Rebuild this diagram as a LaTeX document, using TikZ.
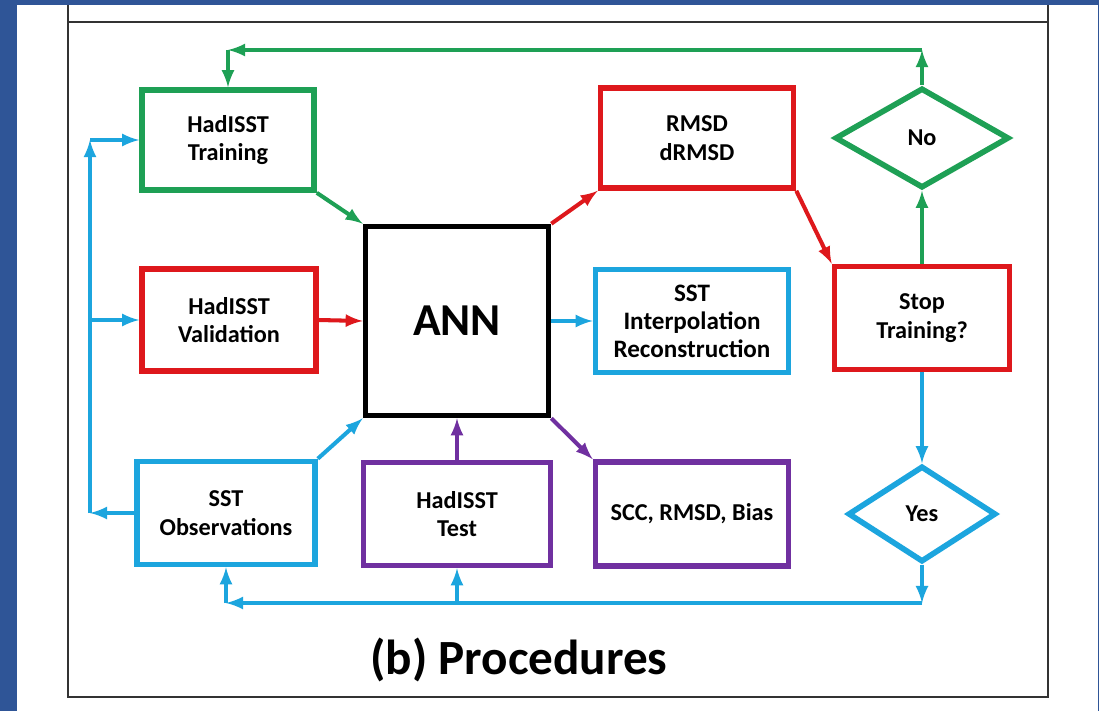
\documentclass[tikz,border=0pt]{standalone}
\usepackage{fontspec}
\setmainfont{Carlito}
\usetikzlibrary{arrows}
\usetikzlibrary{shapes.geometric}
\definecolor{mygreen}{RGB}{30,160,85}
\definecolor{myred}{RGB}{222,24,28}
\definecolor{myblue}{RGB}{28,165,222}
\definecolor{mypurple}{RGB}{112,48,160}
\definecolor{mybg}{RGB}{47,85,151}
\newcommand\px{0.02cm}

\begin{document}
\begin{tikzpicture}[x=0.02cm,y=-0.02cm,
box/.style={draw,rectangle,line width=3.2pt,inner sep=0pt,align=center,
  font=\bfseries\fontsize{13.8}{16.2}\selectfont},
dia/.style={box,diamond},
arr/.style={line width=2.3pt,-latex}]

\useasboundingbox (0,0) rectangle (1099,711);
\fill[mybg] (0,0) rectangle (1099,711);
\fill[white] (17,5) rectangle (1098,711);
\draw[line width=0.7pt,black!80] (68,5) -- (68,697) -- (1048,697) -- (1048,5);
\draw[line width=0.7pt,black!80] (68,22) -- (1048,22);

\node[box,mygreen,minimum width=172*\px,minimum height=100*\px,text=black] (train) at (228,140) {HadISST\\Training};
\node[box,myred,minimum width=174*\px,minimum height=102*\px,text=black] (valid) at (229,320) {HadISST\\Validation};
\node[box,myblue,minimum width=178*\px,minimum height=103*\px,text=black] (obs) at (226,513) {SST\\Observations};
\node[box,black,minimum width=183*\px,minimum height=189*\px,font=\bfseries\fontsize{26}{30}\selectfont] (ann) at (457,321) {ANN};
\node[box,myred,minimum width=193*\px,minimum height=100*\px,text=black] (rmsd) at (697,138) {RMSD\\dRMSD};
\node[box,myblue,minimum width=193*\px,minimum height=103*\px,text=black,font=\bfseries\fontsize{14.3}{16}\selectfont] (interp) at (692,321) {SST\\Interpolation\\Reconstruction};
\node[box,mypurple,minimum width=187*\px,minimum height=103*\px,text=black] (test) at (457,514) {HadISST\\Test};
\node[box,mypurple,minimum width=193*\px,minimum height=104*\px,text=black] (scc) at (692,514) {SCC, RMSD, Bias};
\node[box,myred,minimum width=175*\px,minimum height=103*\px,text=black] (stop) at (922,318) {Stop\\Training?};
\node[dia,mygreen,minimum width=174*\px,minimum height=100*\px,text=black] (no) at (922,138) {No};
\node[dia,myblue,minimum width=148*\px,minimum height=96*\px,text=black] (yes) at (922,514) {Yes};

\node[font=\bfseries\fontsize{28}{32}\selectfont] (title) at (519,660) {(b) Procedures};

\coordinate (gR) at (922,50);
\coordinate (gL) at (228,50);
\coordinate (bR) at (922,603);
\coordinate (lB) at (90,513);
\coordinate (lT) at (90,140);

\draw[arr,mygreen] (no.north) -- (gR);
\draw[arr,mygreen] (gR) -- (gL);
\draw[arr,mygreen] (gL) -- (train.north);
\draw[arr,mygreen] (train.south east) -- (ann.north west);
\draw[arr,mygreen] (stop.north) -- (no.south);

\draw[arr,myred] (valid.east) -- (ann.west);
\draw[arr,myred] (ann.north east) -- (rmsd.south west);
\draw[arr,myred] (rmsd.south east) -- (stop.north west);

\draw[arr,myblue] (obs.north east) -- (ann.south west);
\draw[arr,myblue] (ann.east) -- (interp.west);
\draw[arr,myblue] (stop.south) -- (yes.north);
\draw[arr,myblue] (yes.south) -- (bR);
\draw[arr,myblue] (bR) -- (obs.south |- bR);
\draw[arr,myblue] (obs.south |- bR) -- (obs.south);
\draw[arr,myblue] (test.south |- bR) -- (test.south);
\draw[arr,myblue] (obs.west) -- (lB);
\draw[arr,myblue] (lB) -- (lT);
\draw[arr,myblue] (lT) -- (train.west);
\draw[arr,myblue] (lT |- valid.west) -- (valid.west);

\draw[arr,mypurple] (test.north) -- (ann.south);
\draw[arr,mypurple] (ann.south east) -- (scc.north west);

\end{tikzpicture}
\end{document}
